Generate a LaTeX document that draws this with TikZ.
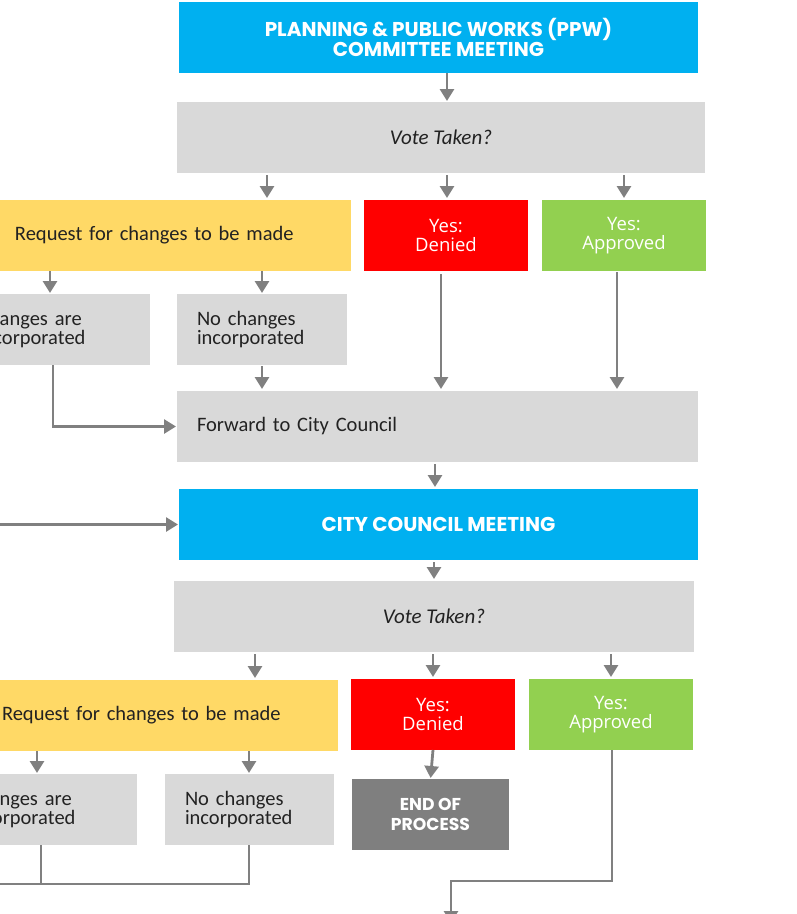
\documentclass[tikz,border=0pt]{standalone}
\usepackage{fontspec}
\setmainfont{Carlito}
\newfontfamily\headfont{Poppins}
\newfontfamily\yesfont{Open Sans}
\usetikzlibrary{arrows.meta}
\definecolor{ppwblue}{HTML}{00B0F0}
\definecolor{boxgray}{HTML}{D9D9D9}
\definecolor{reqyellow}{HTML}{FFD966}
\definecolor{denred}{HTML}{FF0000}
\definecolor{appgreen}{HTML}{92D050}
\definecolor{lngray}{HTML}{808080}
\definecolor{endgray}{HTML}{7F7F7F}
\definecolor{txt}{HTML}{222222}
\begin{document}
\begin{tikzpicture}[x=1pt,y=-1pt,
  base/.style={rectangle, inner sep=0pt, outer sep=0pt, draw=none},
  bluebox/.style={base, fill=ppwblue, text=white, font=\headfont\bfseries\fontsize{20}{19.5}\selectfont, align=center},
  graybox/.style={base, fill=boxgray, text=txt, font=\fontsize{20.5}{19.5}\selectfont},
  yelbox/.style={base, fill=reqyellow, text=txt, font=\fontsize{20.5}{19.5}\selectfont},
  redbox/.style={base, fill=denred, text=white, font=\yesfont\fontsize{18.5}{19.5}\selectfont, align=center},
  grnbox/.style={base, fill=appgreen, text=white, font=\yesfont\fontsize{18.5}{19.5}\selectfont, align=center},
  endbox/.style={base, fill=endgray, text=white, font=\headfont\bfseries\fontsize{17.2}{19.5}\selectfont, align=center},
  ln/.style={draw=lngray, line width=2.8pt},
  arr/.style={ln, -{Triangle[length=12pt,width=14pt]}}
]
\useasboundingbox (0,0) rectangle (797,914);
\clip (0,0) rectangle (797,914);

% ---- first stage ----
\node[bluebox, minimum width=519pt, minimum height=71pt] (ppw) at (438.5,37.5)
  {PLANNING \& PUBLIC WORKS (PPW)\\COMMITTEE MEETING};
\node[graybox, minimum width=528pt, minimum height=71pt] (vote1) at (441,137.5)
  {\fontsize{21}{19.5}\selectfont\itshape Vote Taken?};
\node[yelbox, minimum height=71pt, text width=316pt, inner xsep=20pt, align=left] (yel1) at (173,235.5)
  {Request for changes to be made};
\node[redbox, minimum width=164pt, minimum height=71pt] (red1) at (446,235.5) {Yes:\\Denied};
\node[grnbox, minimum width=164pt, minimum height=71pt] (grn1) at (624,235.5) {Yes:\\Approved};
\node[graybox, minimum height=71pt, text width=152pt, inner xsep=20pt, align=left] (cg1) at (54,329.5)
  {Changes are\\incorporated};
\node[graybox, minimum height=71pt, text width=130pt, inner xsep=20pt, align=left] (ng1) at (262,329.5)
  {No changes\\incorporated};
\node[graybox, minimum height=71pt, text width=481pt, inner xsep=20pt, align=left] (fwd) at (437.5,426.5)
  {Forward to City Council};

% ---- second stage ----
\node[bluebox, minimum width=519pt, minimum height=71pt] (cc) at (438.5,524.5)
  {CITY COUNCIL MEETING};
\node[graybox, minimum width=520pt, minimum height=71pt] (vote2) at (434,616.5)
  {\fontsize{21}{19.5}\selectfont\itshape Vote Taken?};
\node[yelbox, minimum height=71pt, text width=316pt, inner xsep=20pt, align=left] (yel2) at (160,715.5)
  {Request for changes to be made};
\node[redbox, minimum width=164pt, minimum height=71pt] (red2) at (433,714.5) {Yes:\\Denied};
\node[grnbox, minimum width=164pt, minimum height=71pt] (grn2) at (611,714.5) {Yes:\\Approved};
\node[graybox, minimum height=71pt, text width=149pt, inner xsep=20pt, align=left] (cg2) at (42.5,809.5)
  {Changes are\\incorporated};
\node[graybox, minimum height=71pt, text width=129pt, inner xsep=20pt, align=left] (ng2) at (249.5,809.5)
  {No changes\\incorporated};
\node[endbox, minimum width=157pt, minimum height=71pt] (endp) at (430.5,814.5)
  {END OF\\PROCESS};

% ---- column coordinates ----
\coordinate (c447) at (447,0);
\coordinate (c267) at (267,0);
\coordinate (c624) at (624,0);
\coordinate (c50) at (50,0);
\coordinate (c262) at (262,0);
\coordinate (c441) at (441,0);
\coordinate (c617) at (617,0);
\coordinate (c53) at (53,0);
\coordinate (c435) at (435,0);
\coordinate (c434) at (434,0);
\coordinate (c255) at (255,0);
\coordinate (c433) at (433,0);
\coordinate (c611) at (611,0);
\coordinate (c37) at (37,0);
\coordinate (c249) at (249,0);
\coordinate (c41) at (41,0);
\coordinate (c612) at (612,0);
\coordinate (inleft) at (-20,524.5);
\coordinate (j2) at (-20,884);
\coordinate (bend) at (451,881);
\coordinate (outbot) at (451,923);

% ---- connectors ----
\draw[arr, shorten >=1pt] (ppw.south -| c447) -- (vote1.north -| c447);
\draw[arr, shorten <=2pt, shorten >=2pt] (vote1.south -| c267) -- (yel1.north -| c267);
\draw[arr, shorten <=2pt, shorten >=2pt] (vote1.south -| c447) -- (red1.north -| c447);
\draw[arr, shorten <=2pt, shorten >=2pt] (vote1.south -| c624) -- (grn1.north -| c624);
\draw[arr, shorten >=1pt] (yel1.south -| c50) -- (cg1.north -| c50);
\draw[arr, shorten >=1pt] (yel1.south -| c262) -- (ng1.north -| c262);
\draw[arr, shorten <=1pt, shorten >=2pt] (ng1.south -| c262) -- (fwd.north -| c262);
\draw[arr, shorten <=3pt, shorten >=2pt] (red1.south -| c441) -- (fwd.north -| c441);
\draw[arr, shorten <=1pt, shorten >=2pt] (grn1.south -| c617) -- (fwd.north -| c617);
\draw[arr, shorten >=1pt] (cg1.south -| c53) |- (fwd.west);
\draw[arr, shorten <=2pt, shorten >=2pt] (fwd.south -| c435) -- (cc.north -| c435);
\draw[arr, shorten >=1pt] (inleft) -- (cc.west);
\draw[arr, shorten <=2pt, shorten >=2pt] (cc.south -| c434) -- (vote2.north -| c434);
\draw[arr, shorten <=2pt, shorten >=2pt] (vote2.south -| c255) -- (yel2.north -| c255);
\draw[arr, shorten <=2pt, shorten >=2pt] (vote2.south -| c433) -- (red2.north -| c433);
\draw[arr, shorten <=2pt, shorten >=2pt] (vote2.south -| c611) -- (grn2.north -| c611);
\draw[arr, shorten >=1pt] (yel2.south -| c37) -- (cg2.north -| c37);
\draw[arr, shorten >=1pt] (yel2.south -| c249) -- (ng2.north -| c249);
\draw[arr, shorten >=1pt] (red2.south) -- (endp.north);
\draw[arr] (grn2.south -| c612) |- (bend) -- (outbot);
\draw[ln] (ng2.south -| c249) |- (j2);
\draw[ln] (cg2.south -| c41) -- (c41 |- j2);
\end{tikzpicture}
\end{document}
